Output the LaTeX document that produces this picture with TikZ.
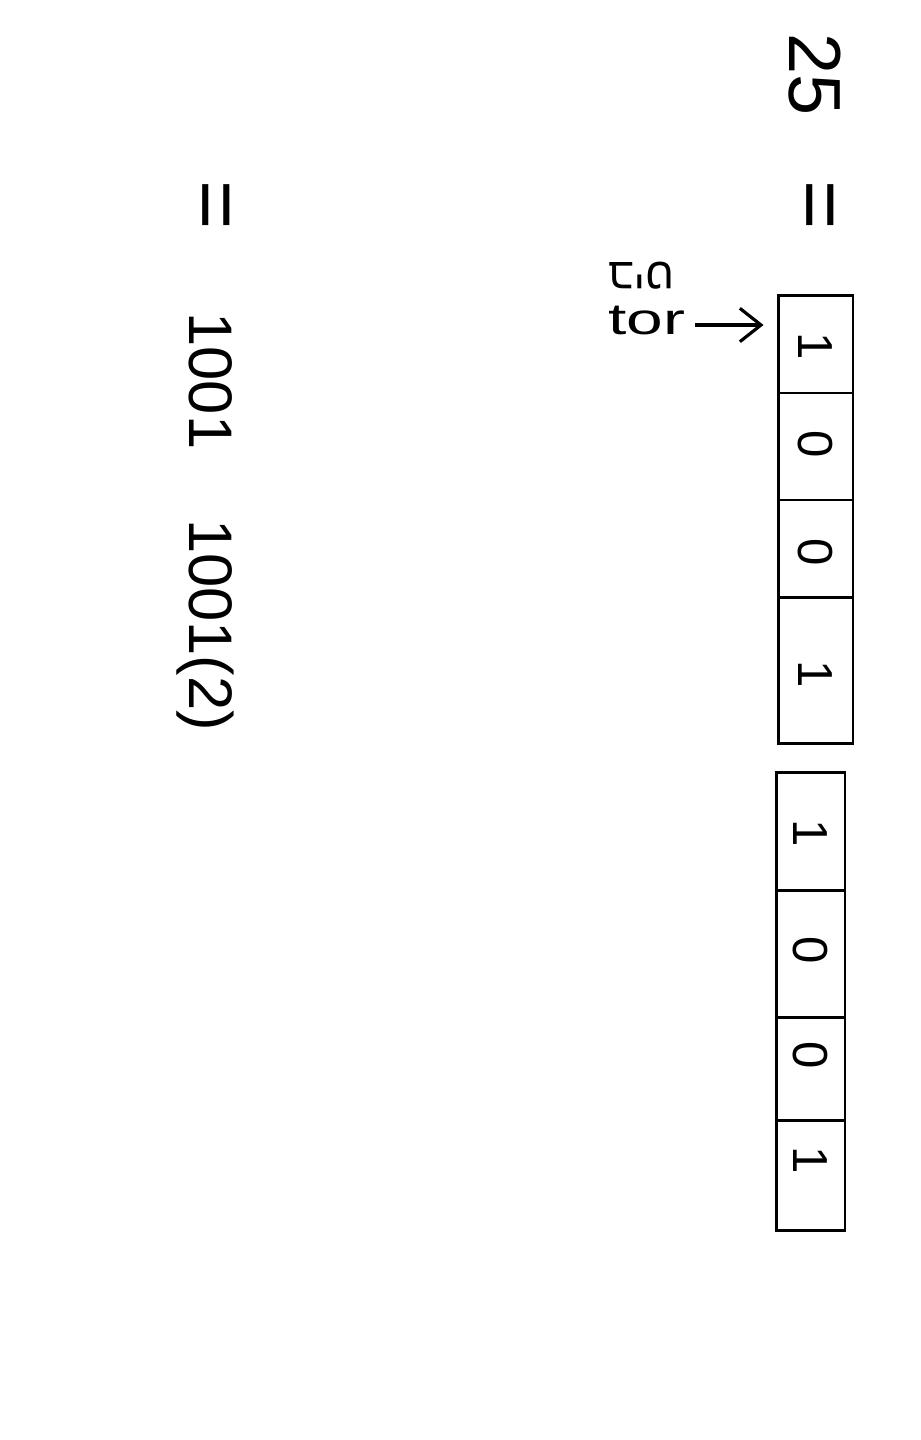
\documentclass[tikz,border=0pt]{standalone}
\usepackage{fontspec}
\setmainfont{Liberation Sans}
\TeXXeTstate=1
\usetikzlibrary{calc}
\usetikzlibrary{arrows.meta}

\begin{document}
\begin{tikzpicture}[x=.02cm, y=-.02cm,
  txt/.style={rotate=-90, font=\fontsize{35}{37}\selectfont},
  bit/.style={rotate=-90, font=\fontsize{28}{30}\selectfont},
  bitbox/.style={draw, line width=1.7pt, inner sep=0}]
\path[use as bounding box, fill=white] (0,0) rectangle (920,1440);
\node[rotate=-90, font=\fontsize{42}{44}\selectfont] (num) at (815,75) {25};
\node[rotate=-90, font=\fontsize{48}{50}\selectfont] (eqA) at (813,205) {=};
\node[bitbox, minimum width=1.5cm, minimum height=8.98cm] (boxA) at (815.5,519.5) {};
\node[bitbox, minimum width=1.38cm, minimum height=9.18cm] (boxB) at (810.5,1001.5) {};
\foreach \y in {393,500,597} {
 \draw[line width=1.7pt] (778,\y) --++(75,0);
}
\foreach \y in {890,1017,1120} {
 \draw[line width=1.7pt] (776,\y) --++(69,0);
}
\foreach \y/\d [count=\i] in {346/1,444/0,552/0,674/1} {
 \node[bit] (a\i) at (815,\y) {\d};
}
\foreach \y/\d [count=\i] in {833/1,950/0,1055/0,1160/1} {
 \node[bit] (b\i) at (810,\y) {\d};
}
\node[rotate=180, inner sep=0, font=\fontsize{25}{27}\selectfont] (lblA) at (641,276) {\beginR ביט\endR};
\node[xscale=1.5, inner sep=0, font=\fontsize{25}{27}\selectfont] (lblB) at (647,321) {tor};
\coordinate (arrS) at (695,325);
\draw[line width=1.8pt, ->, >={Straight Barb[length=12pt, width=19pt]}, shorten >=.26cm] (arrS) -- (arrS -| boxA.west);
\node[rotate=-90, font=\fontsize{48}{50}\selectfont] (eqB) at (209,205) {=};
\node[txt] (grpA) at (211,381) {1001};
\node[txt] (grpB) at (205,625) {1001(2)};
\end{tikzpicture}
\end{document}
